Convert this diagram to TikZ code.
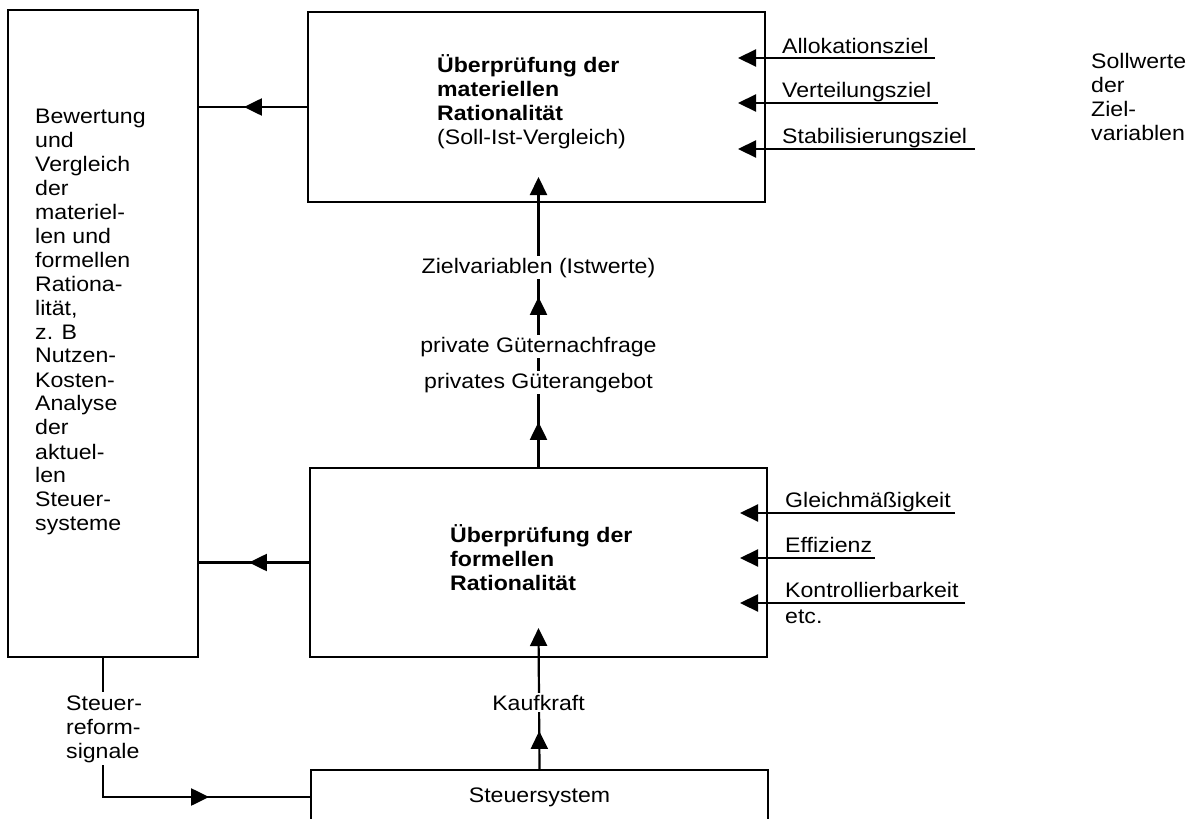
\documentclass[tikz,border=0pt]{standalone}
\usepackage{fontspec}
\setmainfont{Liberation Sans}[FakeStretch=1.1]
\usetikzlibrary{arrows.meta,decorations.markings}
\tikzset{
  box/.style={draw, line width=2.2pt, inner sep=0pt},
  conn/.style={line width=2.2pt},
  tip/.style={-{Triangle[length=18pt,width=17pt]}},
  midtip/.style={postaction={decorate}, decoration={markings, mark=at position #1 with {\arrow{Triangle[length=18pt,width=17pt]}}}},
  midtwo/.style 2 args={postaction={decorate}, decoration={markings, mark=at position #1 with {\arrow{Triangle[length=18pt,width=17pt]}}, mark=at position #2 with {\arrow{Triangle[length=18pt,width=17pt]}}}},
  lbl/.style={inner sep=0pt, anchor=base west},
  clbl/.style={inner sep=2pt, anchor=base, fill=white},
}
\begin{document}
\begin{tikzpicture}[x=1pt,y=-1pt,font=\fontsize{21}{24}\selectfont]
\useasboundingbox (0,0) rectangle (1203,819);
% boxes
\node[box, minimum width=190, minimum height=647] (bew) at (103,333.5) {};
\node[box, minimum width=457, minimum height=190] (top) at (536.5,107) {};
\node[box, minimum width=457, minimum height=189] (mid) at (538.5,562.5) {};
\node[box, minimum width=457, minimum height=54] (steuer) at (539.5,797) {Steuersystem};
% box texts
\node[lbl] (bewtxt) at (35,123) {\parbox[t]{150pt}{Bewertung\\und\\Vergleich\\der\\materiel-\\len und\\formellen\\Rationa-\\lität,\\z. B\\Nutzen-\\Kosten-\\Analyse\\der\\aktuel-\\len\\Steuer-\\systeme}};
\node[lbl] (toptxt) at (437,72) {\parbox[t]{300pt}{\textbf{Überprüfung der}\\\textbf{materiellen}\\\textbf{Rationalität}\\(Soll-Ist-Vergleich)}};
\node[lbl] (midtxt) at (450,542) {\parbox[t]{300pt}{\textbf{Überprüfung der}\\\textbf{formellen}\\\textbf{Rationalität}}};
% connectors to left box
\draw[conn, midtip=63pt] (top.west) -- (top.west -| bew.east);
\draw[conn, midtip=60pt] (mid.west) -- (mid.west -| bew.east);
% vertical connectors
\coordinate (ztip) at (538.5,177);
\coordinate (ktip) at (538.5,628);
\draw[conn, tip, midtwo={45pt}{170pt}] (mid.north) -- (ztip);
\draw[conn, tip, midtip=38pt] (steuer.north) -- (ktip);
% Steuerreform connector
\draw[conn, midtip=245pt] (bew.south) -- (bew.south |- steuer.west) -- (steuer.west);
% right inputs top
\coordinate (a1) at (935,58);  \coordinate (a1t) at (738,58);
\coordinate (a2) at (938,103); \coordinate (a2t) at (738,103);
\coordinate (a3) at (975,149); \coordinate (a3t) at (738,149);
\draw[conn, tip] (a1) -- (a1t);
\draw[conn, tip] (a2) -- (a2t);
\draw[conn, tip] (a3) -- (a3t);
\node[lbl] (l1) at (782,53) {Allokationsziel};
\node[lbl] (l2) at (782,97) {Verteilungsziel};
\node[lbl] (l3) at (782,143) {Stabilisierungsziel};
\node[lbl] (soll) at (1091,68) {\parbox[t]{110pt}{Sollwerte\\der\\Ziel-\\variablen}};
% right inputs middle
\coordinate (b1) at (955,513); \coordinate (b1t) at (740,513);
\coordinate (b2) at (875,558); \coordinate (b2t) at (740,558);
\coordinate (b3) at (965,603); \coordinate (b3t) at (740,603);
\draw[conn, tip] (b1) -- (b1t);
\draw[conn, tip] (b2) -- (b2t);
\draw[conn, tip] (b3) -- (b3t);
\node[lbl] (m1) at (785,507) {Gleichmäßigkeit};
\node[lbl] (m2) at (785,552) {Effizienz};
\node[lbl] (m3) at (785,597) {Kontrollierbarkeit};
\node[lbl] (m4) at (785,623) {etc.};
% labels on vertical lines
\node[clbl] (ziel) at (538.5,273) {Zielvariablen (Istwerte)};
\node[clbl] (nach) at (538.5,352) {private Güternachfrage};
\node[clbl] (ang) at (538.5,388) {privates Güterangebot};
\node[clbl] (kauf) at (538.5,710) {Kaufkraft};
\node[lbl, inner sep=3pt, fill=white] (reform) at (63,710) {\parbox[t]{80pt}{Steuer-\\reform-\\signale}};
\end{tikzpicture}
\end{document}
